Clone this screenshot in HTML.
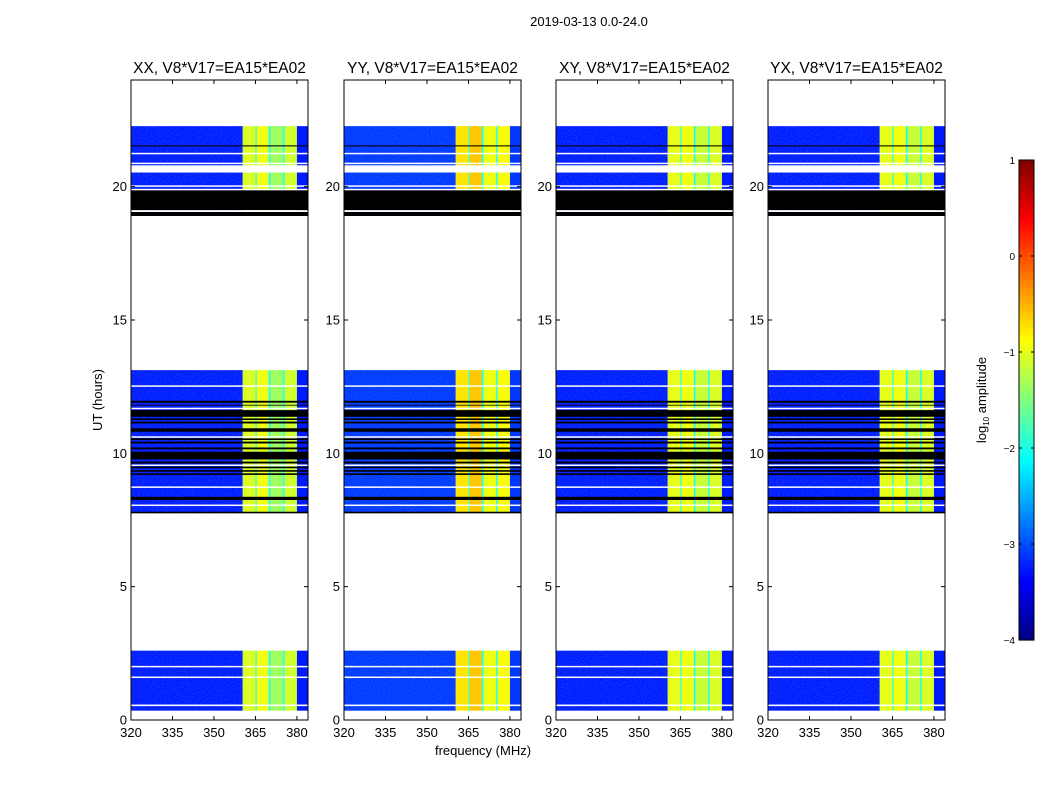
<!DOCTYPE html>
<html><head><meta charset="utf-8"><style>
body{margin:0;background:#fff;}
svg text{font-family:"Liberation Sans",sans-serif;}
</style></head><body>
<svg id="fig" width="1050" height="800" xmlns="http://www.w3.org/2000/svg">
<defs>
<filter id="grain" x="0" y="0" width="100%" height="100%">
<feTurbulence type="fractalNoise" baseFrequency="0.8" numOctaves="1" seed="3"/>
<feColorMatrix type="matrix" values="0 0 0 0 0.1  0 0 0 0 0.4  0 0 0 0 1  0 0 0 1.4 -0.55"/>
</filter>
</defs>
<text x="589" y="26" font-size="13" text-anchor="middle">2019-03-13 0.0-24.0</text>
<g id="panels"></g>
<text transform="translate(102,400) rotate(-90)" font-size="13" text-anchor="middle">UT (hours)</text>
<text x="483" y="755" font-size="13" text-anchor="middle">frequency (MHz)</text>
<g id="cbar"></g>
<text transform="translate(986,400) rotate(-90)" font-size="13" text-anchor="middle">log<tspan font-size="8" dy="3">10</tspan><tspan dy="-3"> amplitude</tspan></text>
</svg>
<script>
const panelNames = ["XX, V8*V17=EA15*EA02","YY, V8*V17=EA15*EA02","XY, V8*V17=EA15*EA02","YX, V8*V17=EA15*EA02"];
const bandEdges = [320, 360.4, 365, 365.5, 369.8, 370.5, 375, 375.6, 380, 384];
const bandValuesXX = [-3.25, -1.05, -1.9, -0.95, -2.0, -1.35, -2.0, -1.1, -3.25];
const bandValuesYY = [-3.1, -0.75, -1.9, -0.6, -2.0, -0.95, -2.0, -0.9, -3.1];
const bandValuesXY = [-3.25, -1.0, -1.9, -0.95, -2.0, -1.15, -2.0, -1.05, -3.25];
const bandValuesYX = [-3.25, -1.0, -1.9, -0.95, -2.0, -1.15, -2.0, -1.05, -3.25];
const dataSegments = [[0.35, 2.6], [7.76, 13.12], [18.9, 22.27]];
const blackSegments = [[11.9,11.97],[11.79,11.82],[11.37,11.62],[11.25,11.31],[11.12,11.19],[10.81,10.94],[10.5,10.56],[10.37,10.44],[10.15,10.22],[9.77,10.06],[9.62,9.69],[9.44,9.5],[9.31,9.37],[9.19,9.25],[8.25,8.37],[7.75,7.81],[19.12,19.87],[18.9,19.05],[21.51,21.55]];
const whiteSegments = [[19.05,19.12],[19.87,19.92],[20.0,20.05],[20.53,20.8],[20.85,20.9],[21.22,21.27],[12.5,12.55],[11.67,11.71],[10.6,10.64],[9.54,9.58],[8.72,8.76],[8.04,8.08],[0.52,0.58],[1.58,1.63],[1.98,2.03]];
const yTicks = [0,5,10,15,20];
const xTicks = [320,335,350,365,380];
const cbarTicks = [-4,-3,-2,-1,0,1];

const panelLeft = [131,344,556,768];
const PW = 177, PT = 80, PH = 640;
const allBands = [bandValuesXX, bandValuesYY, bandValuesXY, bandValuesYX];
const NS = "http://www.w3.org/2000/svg";

function jet(v){
  let t = Math.max(0, Math.min(1, (v+4)/5));
  const f = x => Math.max(0, Math.min(1, x));
  const r = f(1.5 - Math.abs(4*t - 3)), g = f(1.5 - Math.abs(4*t - 2)), b = f(1.5 - Math.abs(4*t - 1));
  return `rgb(${Math.round(r*255)},${Math.round(g*255)},${Math.round(b*255)})`;
}
function mk(tag, attrs, parent){
  const e = document.createElementNS(NS, tag);
  for (const k in attrs) e.setAttribute(k, attrs[k]);
  parent.appendChild(e);
  return e;
}
const root = document.getElementById('panels');
panelNames.forEach((name, p) => {
  const L = panelLeft[p];
  const xs = f => L + (f - 320) / 64 * PW;
  const ys = h => PT + PH - h / 24 * PH;
  const g = mk('g', {}, root);
  
  
  const vals = allBands[p];
  dataSegments.forEach(s => {
    for (let i = 0; i < vals.length; i++) {
      const r = mk('rect', {x: xs(bandEdges[i]), y: ys(s[1]), width: xs(bandEdges[i+1]) - xs(bandEdges[i]), height: ys(s[0]) - ys(s[1]), fill: jet(vals[i])}, g);
      
      
    }
    const n = mk('rect', {x: L, y: ys(s[1]), width: xs(360.4) - L, height: ys(s[0]) - ys(s[1]), filter: 'url(#grain)', opacity: 0.45}, g);
    
    
  });
  blackSegments.forEach(s => {
    const r = mk('rect', {x: L, y: ys(s[1]), width: PW, height: ys(s[0]) - ys(s[1]), fill: '#000'}, g);
    
    
  });
  whiteSegments.forEach(s => {
    const r = mk('rect', {x: L, y: ys(s[1]), width: PW, height: Math.max(1.5, ys(s[0]) - ys(s[1])), fill: '#fff'}, g);
    
    
  });
  const fr = mk('rect', {x: L, y: PT, width: PW, height: PH, fill: 'none', stroke: '#000', 'stroke-width': 1}, g);
  
  
  yTicks.forEach(t => {
    const y = ys(t);
    mk('line', {x1: L, x2: L+4, y1: y, y2: y, stroke: '#000'}, g);
    mk('line', {x1: L+PW-4, x2: L+PW, y1: y, y2: y, stroke: '#000'}, g);
    const tx = mk('text', {x: L-4, y: y+4.5, 'font-size': 13, 'text-anchor': 'end'}, g);
    tx.textContent = t;
    
    
  });
  xTicks.forEach(t => {
    const x = xs(t);
    mk('line', {x1: x, x2: x, y1: PT+PH, y2: PT+PH-4, stroke: '#000'}, g);
    mk('line', {x1: x, x2: x, y1: PT, y2: PT+4, stroke: '#000'}, g);
    const tx = mk('text', {x: x, y: PT+PH+17, 'font-size': 13, 'text-anchor': 'middle'}, g);
    tx.textContent = t;
    
    
  });
  const ti = mk('text', {x: L+PW/2, y: 73, 'font-size': 15.5, 'text-anchor': 'middle'}, g);
  ti.textContent = name;
  
  
});
// colorbar
const cb = document.getElementById('cbar');
const CX = 1019, CW = 15, CT = 160, CH = 480;
const cys = v => CT + CH - (v + 4) / 5 * CH;
for (let i = 0; i < 120; i++) {
  const v0 = -4 + i * 5 / 120, v1 = v0 + 5/120;
  const r = mk('rect', {x: CX, y: cys(v1), width: CW, height: cys(v0) - cys(v1) + 0.6, fill: jet((v0+v1)/2)}, cb);
  
  
}
mk('rect', {x: CX, y: CT, width: CW, height: CH, fill: 'none', stroke: '#000'}, cb);
cbarTicks.forEach(t => {
  const y = cys(t);
  mk('line', {x1: CX, x2: CX+3, y1: y, y2: y, stroke: '#000'}, cb);
  mk('line', {x1: CX+CW-3, x2: CX+CW, y1: y, y2: y, stroke: '#000'}, cb);
  const tx = mk('text', {x: CX-4, y: y+4, 'font-size': 10, 'text-anchor': 'end'}, cb);
  tx.textContent = t < 0 ? '\u2212' + Math.abs(t) : t;
  
  
});
</script>
</body></html>
